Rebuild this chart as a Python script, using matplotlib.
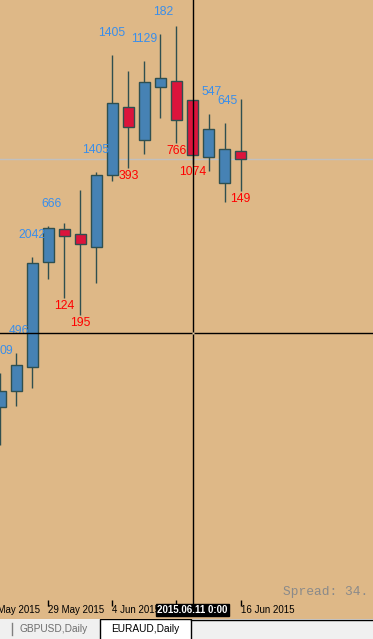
import numpy as np
import matplotlib
matplotlib.use("Agg")
import matplotlib.pyplot as plt
from matplotlib.patches import Rectangle

bg = '#DEB887'
bull_col = '#4682B4'
bear_col = '#DC143C'
edge_col = '#2F4F4F'

plt.rcParams['font.family'] = ['Liberation Sans', 'DejaVu Sans']

# Data: EURAUD daily candles.
first_day = '2015-05-26'
opens  = [1.3986, 1.4018, 1.4066, 1.4276, 1.4342, 1.4332, 1.4306, 1.4450,
          1.4586, 1.4520, 1.4626, 1.4638, 1.4600, 1.4486, 1.4434, 1.4498]
highs  = [1.4054, 1.4094, 1.4286, 1.4348, 1.4354, 1.4420, 1.4456, 1.4690,
          1.4658, 1.4678, 1.4732, 1.4748, 1.4600, 1.4572, 1.4554, 1.4602]
lows   = [1.3910, 1.3988, 1.4024, 1.4242, 1.4204, 1.4170, 1.4234, 1.4438,
          1.4464, 1.4492, 1.4564, 1.4514, 1.4472, 1.4458, 1.4396, 1.4418]
closes = [1.4018, 1.4070, 1.4274, 1.4344, 1.4328, 1.4312, 1.4450, 1.4594,
          1.4546, 1.4636, 1.4644, 1.4560, 1.4490, 1.4542, 1.4502, 1.4482]
bar_labels = ['09', '496', '2042', '666', '124', '195', '1405', '1405',
              '393', '1129', '182', '766', '1074', '547', '645', '149']

tick_dates  = ['2015-05-25', '2015-05-29', '2015-06-04', '2015-06-10', '2015-06-16']
tick_labels = ['25 May 2015', '29 May 2015', '4 Jun 2015', '10 Jun 2015', '16 Jun 2015']

cross_date  = '2015-06-11'
cross_price = 1.4134
spread = 34

# Plot.
fig = plt.figure(figsize=(3.73, 6.39), dpi=100, facecolor=bg)
ax = fig.add_axes([0, 39/639, 1, 600/639], facecolor=bg)

x = np.arange(len(opens))
o = np.array(opens); c = np.array(closes)
up = c >= o
cols = np.where(up, bull_col, bear_col)

ax.axhline(closes[-1], color='#C0C0C0', lw=1, zorder=0.5)
ax.vlines(x, lows, highs, color=edge_col, lw=1, zorder=2)
ax.bar(x, np.abs(c - o), bottom=np.minimum(o, c), width=0.64,
       color=cols, edgecolor=edge_col, linewidth=1, zorder=3)

for i in range(len(x)):
    if up[i]:
        ax.annotate(bar_labels[i], (x[i], highs[i]), xytext=(13, 22),
                    textcoords='offset pixels', ha='right', va='center',
                    fontsize=8.8, color='#3A8EEA', zorder=4)
    else:
        ax.annotate(bar_labels[i], (x[i], lows[i]), xytext=(0, -8),
                    textcoords='offset pixels', ha='center', va='center',
                    fontsize=8.8, color='#FF0000', zorder=4)

cx = np.busday_count(first_day, cross_date)
tick_pos = np.busday_count(first_day, tick_dates)
ax.set_xticks(tick_pos, [''] * len(tick_pos))
ax.tick_params(axis='x', direction='out', length=4, width=1, color='black')
ax.set_yticks([])
ax.set_xlim(-0.03, 23.28)
ax.set_ylim(1.36, 1.48)
for s in ax.spines.values():
    s.set_visible(False)

# Date labels, left aligned on their ticks (the first one runs off the left edge).
for p, lab in zip(tick_pos, tick_labels):
    if cx - 2 < p < cx:   # hidden under the crosshair date box
        continue
    ax.annotate(lab, (p, 0), xycoords=('data', 'axes fraction'),
                xytext=(0, -10), textcoords='offset pixels',
                ha='left', va='center', fontsize=7, color='black',
                annotation_clip=False)

# Crosshair.
ax.axvline(cx, ymin=-5/600, ymax=1, color='black', lw=1, zorder=5, clip_on=False)
ax.axhline(cross_price, color='black', lw=1, zorder=5)
ax.plot(cx, cross_price, marker='s', ms=2, color='#EBCFA5', mec='none', zorder=6)
ax.annotate(cross_date.replace('-', '.') + ' 0:00', (cx, 0),
            xycoords=('data', 'axes fraction'), xytext=(0, -10),
            textcoords='offset pixels', ha='center', va='center',
            fontsize=7, color='white', fontweight='bold', zorder=10,
            annotation_clip=False,
            bbox=dict(boxstyle='square,pad=0.12', fc='black', ec='black'))

ax.text(283/373, 8/600, 'Spread: {}.'.format(spread), transform=ax.transAxes,
        family='Liberation Mono', fontsize=9.3, color='#8A8A8A',
        ha='left', va='center')

# Tab bar.
tb = fig.add_axes([0, 0, 1, 20/639], facecolor='#F0F0F0')
tb.set_xlim(0, 373)
tb.set_ylim(0, 20)
tb.axis('off')
tb.add_patch(Rectangle((0, 0), 373, 20, fc='#F0F0F0', ec='none'))
tb.add_patch(Rectangle((99.5, -1), 91.5, 21, fc='white', ec='black', lw=1))
tb.plot([191, 373], [19.5, 19.5], color='black', lw=1)
tb.plot([12, 12], [4, 16], color='#808080', lw=1)
tb.text(54, 9.5, 'GBPUSD,Daily', ha='center', va='center', fontsize=7.3, color='#6E6E6E')
tb.text(145, 9.5, 'EURAUD,Daily', ha='center', va='center', fontsize=7.3, color='black')

plt.savefig('out.png', dpi=100, facecolor=bg)
plt.close()
